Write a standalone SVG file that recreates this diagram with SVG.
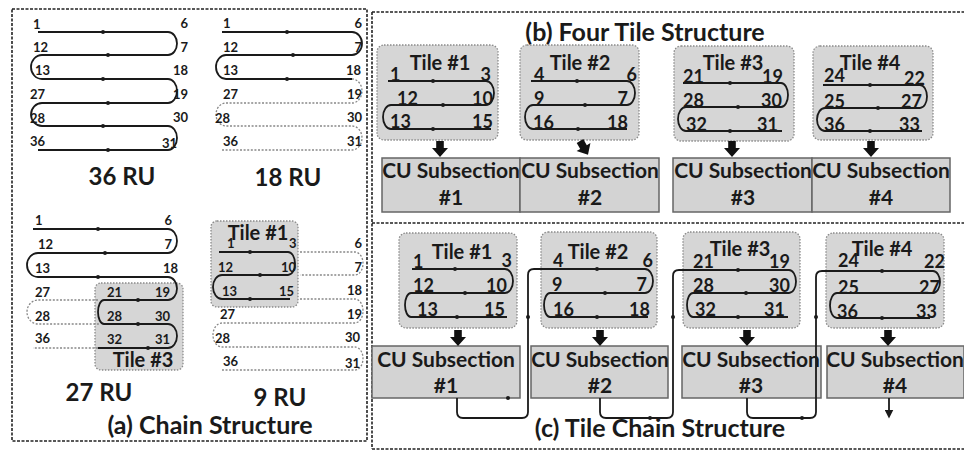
<svg xmlns="http://www.w3.org/2000/svg" width="964" height="452" viewBox="0 0 964 452">
<style>
text{font-family:Lato,"Open Sans","Liberation Sans",sans-serif;font-weight:bold;fill:#1a1a1a}
.n13{font-size:13px}
.n18{font-size:18px}
.t20{font-size:20px;text-anchor:middle}
.ru{font-size:24px;text-anchor:middle}
.ttl{font-size:25px;text-anchor:middle}
.cu{font-size:21px;text-anchor:middle}
.e{text-anchor:end}
.panel{fill:none;stroke:#222;stroke-width:1.6;stroke-dasharray:3 1.5}
.snake{fill:none;stroke:#1a1a1a;stroke-width:1.8}
.dot{fill:none;stroke:#888;stroke-width:1.3;stroke-dasharray:2 1.6}
.tile{fill:#d6d6d6;stroke:#8a8a8a;stroke-width:1.3;stroke-dasharray:1.5 1.5}
.cubox{fill:#d3d3d3;stroke:#666;stroke-width:1.5}
.chain{fill:none;stroke:#1a1a1a;stroke-width:1.8}
.d{fill:#1a1a1a}
</style>
<defs>
<path id="bigArrow" d="M-3.8,0 H3.8 V7 H8 L0,16 L-8,7 H-3.8 Z" fill="#111"/>
<marker id="ah" viewBox="0 0 10 10" refX="5" refY="5" markerWidth="5" markerHeight="5" orient="auto"><path d="M0,0 L10,5 L0,10 Z" fill="#1a1a1a"/></marker>
</defs>

<g id="panel-borders">
<rect class="panel" x="12" y="9" width="355" height="432"/>
<path class="panel" d="M372,12 V449 M372,12 H964 M372,223 H964 M372,449 H964"/>
</g>

<!-- (a) 36 RU -->
<g id="a-36ru">
<path class="snake" d="M38,32 H168 A9,11.5 0 0 1 168,55 H42 A11,12 0 0 0 42,79 H168 A9,12 0 0 1 168,103 H42 A11,11.5 0 0 0 42,126 H168 A9,12 0 0 1 168,150 H38"/>
<circle class="d" cx="103" cy="32" r="2"/><circle class="d" cx="108" cy="55" r="2"/><circle class="d" cx="103" cy="79" r="2"/><circle class="d" cx="108" cy="103" r="2"/><circle class="d" cx="103" cy="126" r="2"/><circle class="d" cx="108" cy="150" r="2"/>
<text class="n13" x="33" y="29">1</text><text class="n13" x="33" y="52">12</text><text class="n13" x="35" y="75">13</text><text class="n13" x="30" y="99">27</text><text class="n13" x="30" y="123">28</text><text class="n13" x="30" y="146">36</text>
<text class="n13 e" x="188" y="28">6</text><text class="n13 e" x="188" y="52">7</text><text class="n13 e" x="188" y="75">18</text><text class="n13 e" x="188" y="99">19</text><text class="n13 e" x="188" y="122">30</text><text class="n13 e" x="177" y="148">31</text>
<text class="ru" x="122" y="185">36 RU</text>
</g>

<!-- (a) 18 RU -->
<g id="a-18ru">
<path class="snake" d="M222,32 H352 A10,11.5 0 0 1 352,55 H226 A10,12 0 0 0 226,79 H352"/>
<path class="dot" d="M352,79 A10,12 0 0 1 352,103 H226 A10,11.5 0 0 0 226,126 H352 A10,12 0 0 1 352,150 H222"/>
<circle class="d" cx="287" cy="32" r="2"/><circle class="d" cx="293" cy="55" r="2"/><circle class="d" cx="287" cy="79" r="2"/>
<text class="n13" x="223" y="28">1</text><text class="n13" x="223" y="52">12</text><text class="n13" x="223" y="75">13</text><text class="n13" x="223" y="99">27</text><text class="n13" x="215" y="123">28</text><text class="n13" x="223" y="146">36</text>
<text class="n13 e" x="362" y="28">6</text><text class="n13 e" x="362" y="52">7</text><text class="n13 e" x="361" y="75">18</text><text class="n13 e" x="362" y="99">19</text><text class="n13 e" x="362" y="122">30</text><text class="n13 e" x="362" y="146">31</text>
<text class="ru" x="288" y="186">18 RU</text>
</g>

<!-- (a) 27 RU -->
<g id="a-27ru">
<rect class="tile" x="95" y="283" width="88" height="87" rx="6"/>
<path class="snake" d="M33,229 H168 A9,12 0 0 1 168,253 H38 A11,12 0 0 0 38,277 H168 A9,11.5 0 0 1 168,300 H104 A6,12 0 0 0 104,324 H168 A9,12 0 0 1 168,348 H98"/>
<path class="dot" d="M98,300 H38 A11,12 0 0 0 38,324 H100 M98,348 H33"/>
<circle class="d" cx="98" cy="229" r="2"/><circle class="d" cx="105" cy="253" r="2"/><circle class="d" cx="98" cy="277" r="2"/><circle class="d" cx="138" cy="300" r="2"/><circle class="d" cx="138" cy="324" r="2"/><circle class="d" cx="148" cy="348" r="2"/>
<text class="n13" x="35" y="225">1</text><text class="n13" x="38" y="249">12</text><text class="n13" x="35" y="273">13</text><text class="n13" x="35" y="297">27</text><text class="n13" x="35" y="321">28</text><text class="n13" x="35" y="343">36</text>
<text class="n13" x="107" y="297">21</text><text class="n13" x="107" y="321">28</text><text class="n13" x="107" y="344">32</text>
<text class="n13 e" x="172" y="225">6</text><text class="n13 e" x="172" y="249">7</text><text class="n13 e" x="178" y="273">18</text><text class="n13 e" x="170" y="297">19</text><text class="n13 e" x="170" y="321">30</text><text class="n13 e" x="170" y="344">31</text>
<text class="t20" x="143" y="367">Tile #3</text>
<text class="ru" x="99" y="401">27 RU</text>
</g>

<!-- (a) 9 RU -->
<g id="a-9ru">
<rect class="tile" x="211" y="221" width="87" height="86" rx="6"/>
<path class="snake" d="M219,252 H288 A7,11.5 0 0 1 288,275 H222 A9,12 0 0 0 222,299 H290"/>
<path class="dot" d="M300,252 H355 A8,11.5 0 0 1 355,275 H300 M300,299 H355 A8,12 0 0 1 355,323 H222 A9,12 0 0 0 222,347 H355 A8,11.5 0 0 1 355,370 H222"/>
<circle class="d" cx="250" cy="252" r="2"/><circle class="d" cx="260" cy="275" r="2"/><circle class="d" cx="250" cy="299" r="2"/>
<text class="t20" x="258" y="240">Tile #1</text>
<text class="n13" x="227" y="248">1</text><text class="n13" x="289" y="248">3</text><text class="n13" x="218" y="272">12</text><text class="n13" x="281" y="272">10</text><text class="n13" x="222" y="296">13</text><text class="n13" x="279" y="296">15</text>
<text class="n13" x="220" y="319">27</text><text class="n13" x="215" y="343">28</text><text class="n13" x="223" y="366">36</text>
<text class="n13 e" x="362" y="248">6</text><text class="n13 e" x="362" y="272">7</text><text class="n13 e" x="362" y="295">18</text><text class="n13 e" x="362" y="319">19</text><text class="n13 e" x="360" y="342">30</text><text class="n13 e" x="360" y="368">31</text>
<text class="ru" x="280" y="406">9 RU</text>
</g>
<text class="ttl" x="210" y="434">(a) Chain Structure</text>

<!-- (b) -->
<text class="ttl" x="645" y="41">(b) Four Tile Structure</text>
<g id="b-tile1">
<rect class="tile" x="377" y="45" width="121" height="95" rx="7"/>
<text class="t20" x="440" y="70">Tile #1</text>
<path class="snake" d="M388,81 H486 A8,12 0 0 1 486,105 H391 A8,12 0 0 0 391,129 H491"/>
<circle class="d" cx="433" cy="81" r="2"/><circle class="d" cx="443" cy="105" r="2"/><circle class="d" cx="433" cy="129" r="2"/>
<text class="n18" x="390" y="81">1</text><text class="n18 e" x="491" y="81">3</text><text class="n18" x="397" y="105">12</text><text class="n18 e" x="493" y="105">10</text><text class="n18" x="390" y="128">13</text><text class="n18 e" x="493" y="128">15</text>
</g>
<g id="b-tile2">
<rect class="tile" x="520" y="45" width="119" height="95" rx="7"/>
<text class="t20" x="580" y="70">Tile #2</text>
<path class="snake" d="M531,81 H627 A8,12 0 0 1 627,105 H533 A8,12 0 0 0 533,129 H627"/>
<circle class="d" cx="577" cy="81" r="2"/><circle class="d" cx="585" cy="105" r="2"/><circle class="d" cx="578" cy="129" r="2"/>
<text class="n18" x="534" y="81">4</text><text class="n18 e" x="637" y="81">6</text><text class="n18" x="534" y="105">9</text><text class="n18 e" x="628" y="105">7</text><text class="n18" x="533" y="129">16</text><text class="n18 e" x="628" y="129">18</text>
</g>
<g id="b-tile3">
<rect class="tile" x="674" y="46" width="120" height="95" rx="7"/>
<text class="t20" x="733" y="70">Tile #3</text>
<path class="snake" d="M683,83 H781 A7,12 0 0 1 781,107 H686 A8,12 0 0 0 686,131 H782"/>
<circle class="d" cx="730" cy="83" r="2"/><circle class="d" cx="738" cy="107" r="2"/><circle class="d" cx="730" cy="131" r="2"/>
<text class="n18" x="683" y="83">21</text><text class="n18 e" x="783" y="83">19</text><text class="n18" x="683" y="107">28</text><text class="n18 e" x="782" y="107">30</text><text class="n18" x="686" y="131">32</text><text class="n18 e" x="778" y="131">31</text>
</g>
<g id="b-tile4">
<rect class="tile" x="813" y="46" width="120" height="94" rx="7"/>
<text class="t20" x="870" y="70">Tile #4</text>
<path class="snake" d="M823,85 H920 A7,11.5 0 0 1 920,108 H825 A8,11.5 0 0 0 825,131 H922"/>
<circle class="d" cx="870" cy="85" r="2"/><circle class="d" cx="878" cy="108" r="2"/><circle class="d" cx="870" cy="131" r="2"/>
<text class="n18" x="824" y="82">24</text><text class="n18 e" x="925" y="85">22</text><text class="n18" x="824" y="108">25</text><text class="n18 e" x="922" y="108">27</text><text class="n18" x="824" y="131">36</text><text class="n18 e" x="920" y="131">33</text>
</g>
<g id="b-cu1"><rect class="cubox" x="382" y="158" width="138" height="54"/><text class="cu" x="451" y="178">CU Subsection</text><text class="cu" x="451" y="205">#1</text></g>
<g id="b-cu2"><rect class="cubox" x="520" y="158" width="139" height="54"/><text class="cu" x="590" y="178">CU Subsection</text><text class="cu" x="590" y="205">#2</text></g>
<g id="b-cu3"><rect class="cubox" x="673" y="158" width="139" height="54"/><text class="cu" x="743" y="178">CU Subsection</text><text class="cu" x="743" y="205">#3</text></g>
<g id="b-cu4"><rect class="cubox" x="812" y="158" width="138" height="54"/><text class="cu" x="881" y="178">CU Subsection</text><text class="cu" x="881" y="205">#4</text></g>

<!-- (c) -->
<text class="ttl" x="660" y="437">(c) Tile Chain Structure</text>
<g id="c-tile1">
<rect class="tile" x="399" y="233" width="118" height="95" rx="7"/>
<text class="t20" x="462" y="259">Tile #1</text>
<path class="snake" d="M412,269 H505 A8,12 0 0 1 505,293 H411 A6,12 0 0 0 411,317 H507"/>
<circle class="d" cx="455" cy="269" r="2"/><circle class="d" cx="465" cy="293" r="2"/><circle class="d" cx="457" cy="317" r="2"/>
<text class="n18" x="413" y="268">1</text><text class="n18 e" x="512" y="267">3</text><text class="n18" x="413" y="292">12</text><text class="n18 e" x="507" y="292">10</text><text class="n18" x="417" y="316">13</text><text class="n18 e" x="505" y="316">15</text>
</g>
<g id="c-tile2">
<rect class="tile" x="541" y="232" width="116" height="96" rx="7"/>
<text class="t20" x="598" y="259">Tile #2</text>
<path class="snake" d="M548,269 H645 A8,12 0 0 1 645,293 H550 A6,12 0 0 0 550,317 H648"/>
<circle class="d" cx="597" cy="269" r="2"/><circle class="d" cx="605" cy="293" r="2"/><circle class="d" cx="597" cy="317" r="2"/>
<text class="n18" x="553" y="267">4</text><text class="n18 e" x="653" y="267">6</text><text class="n18" x="552" y="291">9</text><text class="n18 e" x="647" y="291">7</text><text class="n18" x="553" y="316">16</text><text class="n18 e" x="650" y="316">18</text>
</g>
<g id="c-tile3">
<rect class="tile" x="683" y="232" width="117" height="96" rx="7"/>
<text class="t20" x="740" y="256">Tile #3</text>
<path class="snake" d="M690,270 H789 A7,11.5 0 0 1 789,293 H693 A6,12 0 0 0 693,317 H788"/>
<circle class="d" cx="738" cy="270" r="2"/><circle class="d" cx="746" cy="293" r="2"/><circle class="d" cx="738" cy="317" r="2"/>
<text class="n18" x="693" y="268">21</text><text class="n18 e" x="790" y="268">19</text><text class="n18" x="693" y="292">28</text><text class="n18 e" x="790" y="292">30</text><text class="n18" x="695" y="316">32</text><text class="n18 e" x="785" y="316">31</text>
</g>
<g id="c-tile4">
<rect class="tile" x="826" y="233" width="118" height="95" rx="7"/>
<text class="t20" x="882" y="256">Tile #4</text>
<path class="snake" d="M836,271 H933 A7,11 0 0 1 933,293 H837 A7,12.5 0 0 0 837,318 H930"/>
<circle class="d" cx="882" cy="271" r="2"/><circle class="d" cx="882" cy="318" r="2"/>
<text class="n18" x="838" y="267">24</text><text class="n18 e" x="945" y="268">22</text><text class="n18" x="838" y="294">25</text><text class="n18 e" x="940" y="294">27</text><text class="n18" x="837" y="318">36</text><text class="n18 e" x="937" y="318">33</text>
</g>
<g id="c-cu1"><rect class="cubox" x="372" y="346" width="148" height="52"/><text class="cu" x="446" y="367">CU Subsection</text><text class="cu" x="446" y="393">#1</text></g>
<g id="c-cu2"><rect class="cubox" x="531" y="346" width="137" height="52"/><text class="cu" x="600" y="367">CU Subsection</text><text class="cu" x="600" y="393">#2</text></g>
<g id="c-cu3"><rect class="cubox" x="682" y="346" width="139" height="52"/><text class="cu" x="751" y="367">CU Subsection</text><text class="cu" x="751" y="393">#3</text></g>
<g id="c-cu4"><rect class="cubox" x="827" y="346" width="137" height="52"/><text class="cu" x="895" y="367">CU Subsection</text><text class="cu" x="895" y="393">#4</text></g>

<g id="connectors">
<use href="#bigArrow" x="440" y="141"/>
<use href="#bigArrow" transform="translate(580,141) rotate(-30)"/>
<use href="#bigArrow" x="732" y="141"/>
<use href="#bigArrow" x="871" y="141"/>
<use href="#bigArrow" x="458" y="330"/>
<use href="#bigArrow" x="600" y="330"/>
<use href="#bigArrow" x="747" y="330"/>
<use href="#bigArrow" x="888" y="330"/>
<path class="chain" d="M457,398 V412 Q457,418 463,418 H522 Q528,418 528,412 V275 Q528,269 534,269 H548"/>
<path class="chain" d="M600,398 V412 Q600,418 606,418 H667 Q673,418 673,412 V276 Q673,270 679,270 H690"/>
<path class="chain" d="M747,398 V412 Q747,418 753,418 H810 Q816,418 816,412 V277 Q816,271 822,271 H836"/>
<path class="chain" d="M889,398 V414" marker-end="url(#ah)"/>
<circle class="d" cx="508" cy="398" r="2"/>
<circle class="d" cx="528" cy="317" r="2"/><circle class="d" cx="673" cy="317" r="2"/><circle class="d" cx="816" cy="317" r="2"/>
<circle class="d" cx="650" cy="418" r="2"/><circle class="d" cx="802" cy="418" r="2"/>
</g>
</svg>
